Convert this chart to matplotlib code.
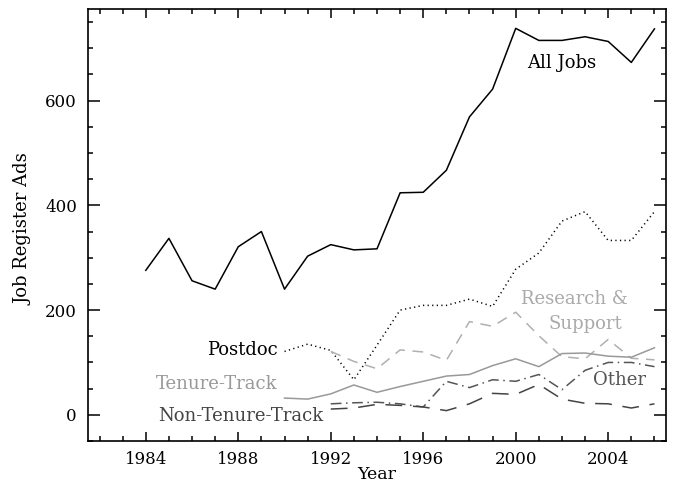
import matplotlib
matplotlib.use("Agg")
import matplotlib.pyplot as plt
from matplotlib.ticker import MultipleLocator

plt.rcParams['font.family'] = ['DejaVu Serif']

years_all = list(range(1984, 2007))
all_jobs = [276, 337, 256, 240, 321, 350, 240, 303, 325, 315, 317, 424, 425,
            467, 569, 622, 738, 715, 715, 722, 713, 673, 737]

years_pd = list(range(1990, 2007))
postdoc = [121, 135, 123, 67, 133, 200, 209, 209, 221, 207, 278, 309, 370,
           388, 333, 333, 388]

years_tt = list(range(1990, 2007))
tenure_track = [32, 30, 40, 57, 43, 54, 64, 74, 77, 94, 107, 92, 117, 118,
                112, 110, 128]

years_rs = list(range(1992, 2007))
research = [121, 102, 88, 124, 120, 104, 178, 169, 196, 151, 111, 107, 144,
            108, 105]

years_ot = list(range(1992, 2007))
other = [21, 23, 24, 21, 15, 64, 52, 67, 64, 77, 48, 85, 100, 100, 92]

years_nt = list(range(1992, 2007))
non_tenure = [11, 13, 20, 18, 15, 8, 21, 41, 39, 58, 30, 22, 21, 13, 21]

fig = plt.figure(figsize=(6.8, 4.83), dpi=100)
ax = fig.add_axes([88/680, 42/483, (666-88)/680, (474-42)/483])

lw = 1.1
ax.plot(years_all, all_jobs, color='black', lw=lw)
ax.plot(years_pd, postdoc, color='black', lw=lw, linestyle=(0, (0.8, 2.2)))
ax.plot(years_rs, research, color='#b0b0b0', lw=lw, linestyle=(0, (7, 5)))
ax.plot(years_tt, tenure_track, color='#999999', lw=lw)
ax.plot(years_ot, other, color='#555555', lw=lw, linestyle=(0, (7, 3, 1, 3)))
ax.plot(years_nt, non_tenure, color='#444444', lw=lw, linestyle=(0, (11, 7)))

fs = 13
ax.text(2002.0, 672, 'All Jobs', color='black', fontsize=fs, ha='center', va='center')
ax.text(2002.55, 221, 'Research &', color='#aaaaaa', fontsize=fs, ha='center', va='center')
ax.text(2003.0, 174, 'Support', color='#aaaaaa', fontsize=fs, ha='center', va='center')
ax.text(2004.48, 67, 'Other', color='#555555', fontsize=fs, ha='center', va='center')
ax.text(1989.7, 123, 'Postdoc', color='black', fontsize=fs, ha='right', va='center')
ax.text(1989.7, 58, 'Tenure-Track', color='#999999', fontsize=fs, ha='right', va='center')
ax.text(1991.68, -3, 'Non-Tenure-Track', color='#444444', fontsize=fs, ha='right', va='center')

ax.set_xlim(1981.5, 2006.5)
ax.set_ylim(-50, 775)
ax.xaxis.set_major_locator(MultipleLocator(4))
ax.xaxis.set_minor_locator(MultipleLocator(1))
ax.yaxis.set_major_locator(MultipleLocator(200))
ax.yaxis.set_minor_locator(MultipleLocator(50))
ax.tick_params(axis='both', which='both', direction='in', top=True, right=True,
               labelsize=12, width=1.1, color='black')
ax.tick_params(axis='x', which='major', length=6.5, pad=7)
ax.tick_params(axis='y', which='major', length=8.5, pad=8)
ax.tick_params(axis='both', which='minor', length=3.6)
for s in ax.spines.values():
    s.set_linewidth(1.2)

ax.set_xlabel('Year', fontsize=12.5, va='baseline')
ax.xaxis.set_label_coords(0.4995, -0.088)
ax.set_ylabel('Job Register Ads', fontsize=13, va='center')
ax.yaxis.set_label_coords(-0.111, 0.49)

fig.savefig('out.png', dpi=100)
